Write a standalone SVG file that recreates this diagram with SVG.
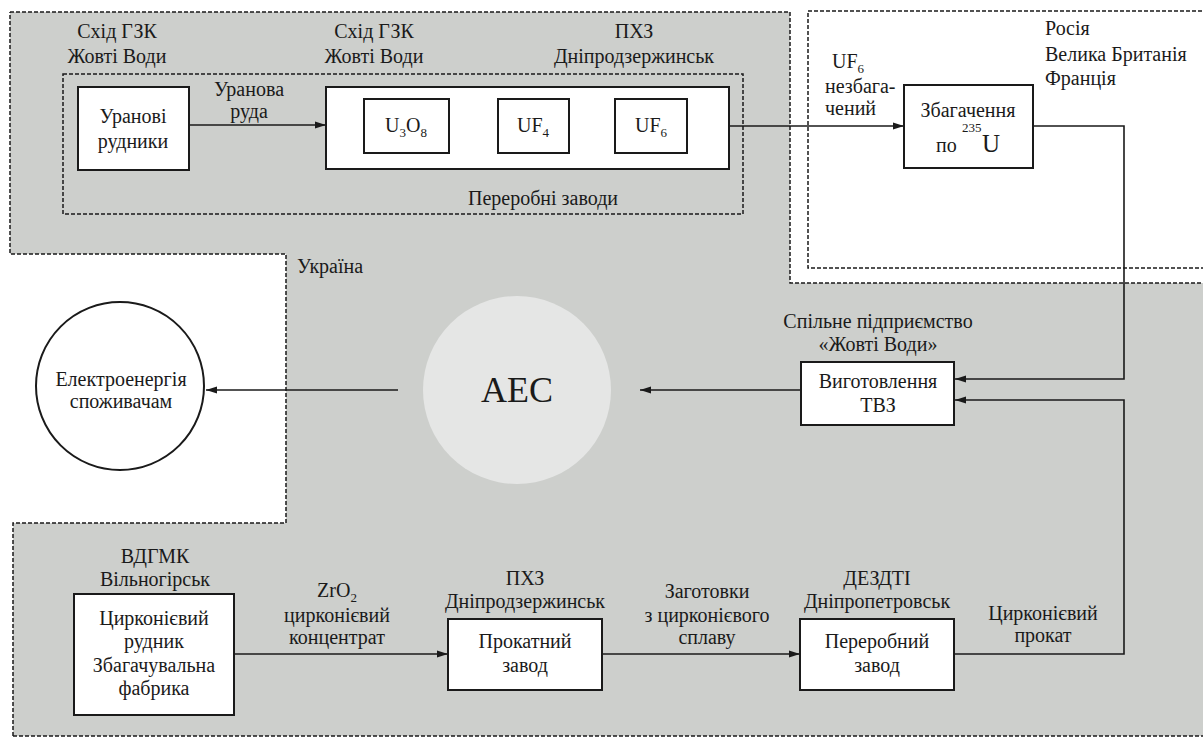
<svg xmlns="http://www.w3.org/2000/svg" width="1203" height="738" viewBox="0 0 1203 738">
<style>
text{font-family:"Liberation Serif","Times New Roman",serif;font-size:20px;fill:#1a1a1a}
.c{text-anchor:middle}
.box{fill:#fff;stroke:#1a1a1a;stroke-width:2}
.dash{fill:none;stroke:#1a1a1a;stroke-width:1.5;stroke-dasharray:4 2}
.con{fill:none;stroke:#1a1a1a;stroke-width:1.6}
.sub{font-size:13px}
</style>
<defs>
<marker id="ah" markerWidth="11" markerHeight="8" refX="11" refY="4" orient="auto" markerUnits="userSpaceOnUse"><path d="M0,0.5 L11,4 L0,7.5 z" fill="#1a1a1a"/></marker>
</defs>
<rect width="1203" height="738" fill="#fff"/>
<g id="regions">
<path d="M10,12 H790 V283 H1203 V736 H13 V523 H286 V254 H10 Z" fill="#cdcfcc" stroke="none"/>
<path d="M10,12 H790 V283 H1205 M13,736 V523 H286 V254 H10 V12 M13,736 H1205" class="dash"/>
<rect x="808" y="11" width="400" height="257" class="dash"/>
<rect x="63" y="74" width="680" height="140" class="dash"/>
<text x="543" y="205" class="c">Переробні заводи</text>
<text x="297" y="273">Україна</text>
<text x="1045" y="35">Росія</text>
<text x="1045" y="61">Велика Британія</text>
<text x="1045" y="85">Франція</text>
</g>
<g id="connectors">
<path d="M189,125 H326" class="con" marker-end="url(#ah)"/>
<path d="M449,126 H498" class="con" marker-end="url(#ah)"/>
<path d="M569,126 H615" class="con" marker-end="url(#ah)"/>
<path d="M729,126 H904" class="con" marker-end="url(#ah)"/>
<path d="M1033,126 H1124 V379 H955" class="con" marker-end="url(#ah)"/>
<path d="M954,654 H1124 V400 H955" class="con" marker-end="url(#ah)"/>
<path d="M801,390 H640" class="con" marker-end="url(#ah)"/>
<path d="M398,390 H206" class="con" marker-end="url(#ah)"/>
<path d="M234,654 H448" class="con" marker-end="url(#ah)"/>
<path d="M602,654 H800" class="con" marker-end="url(#ah)"/>
</g>
<g id="labels">
<text x="249" y="96" class="c">Уранова</text>
<text x="249" y="118" class="c">руда</text>
<text x="832" y="68">UF<tspan class="sub" dy="5">6</tspan></text>
<text x="825" y="93">незбага-</text>
<text x="825" y="115">чений</text>
<text x="337" y="597" class="c">ZrO<tspan class="sub" dy="5">2</tspan></text>
<text x="337" y="622" class="c">цирконієвий</text>
<text x="337" y="644" class="c">концентрат</text>
<text x="707" y="598" class="c">Заготовки</text>
<text x="707" y="622" class="c">з цирконієвого</text>
<text x="707" y="644" class="c">сплаву</text>
<text x="1043" y="620" class="c">Цирконієвий</text>
<text x="1043" y="642" class="c">прокат</text>
</g>
<g id="node-mines">
<text x="117" y="38" class="c">Схід ГЗК</text>
<text x="117" y="63" class="c">Жовті Води</text>
<rect x="78" y="87" width="111" height="83" class="box"/>
<text x="133" y="123" class="c">Уранові</text>
<text x="133" y="148" class="c">рудники</text>
</g>
<g id="node-plants">
<text x="374" y="38" class="c">Схід ГЗК</text>
<text x="374" y="63" class="c">Жовті Води</text>
<text x="634" y="38" class="c">ПХЗ</text>
<text x="634" y="63" class="c">Дніпродзержинськ</text>
<rect x="326" y="87" width="403" height="82" class="box"/>
</g>
<g id="node-u3o8">
<rect x="364" y="99" width="85" height="54" class="box"/>
<text x="406" y="132" class="c">U<tspan class="sub" dy="5">3</tspan><tspan dy="-5">O</tspan><tspan class="sub" dy="5">8</tspan></text>
</g>
<g id="node-uf4">
<rect x="498" y="99" width="71" height="54" class="box"/>
<text x="533" y="132" class="c">UF<tspan class="sub" dy="5">4</tspan></text>
</g>
<g id="node-uf6">
<rect x="615" y="99" width="72" height="54" class="box"/>
<text x="651" y="132" class="c">UF<tspan class="sub" dy="5">6</tspan></text>
</g>
<g id="node-enrich">
<rect x="904" y="85" width="129" height="83" class="box"/>
<text x="968" y="117" class="c">Збагачення</text>
<text x="936" y="152">по<tspan class="sub" x="962" y="132">235</tspan><tspan x="982" y="152" style="font-size:25px">U</tspan></text>
</g>
<g id="node-tvz">
<text x="878" y="328" class="c">Спільне підприємство</text>
<text x="878" y="351" class="c">«Жовті Води»</text>
<rect x="801" y="362" width="153" height="63" class="box"/>
<text x="878" y="388" class="c">Виготовлення</text>
<text x="878" y="412" class="c">ТВЗ</text>
</g>
<g id="node-aes">
<circle cx="517" cy="390" r="94" fill="#e5e6e5"/>
<text x="517" y="402" class="c" style="font-size:36px">AEC</text>
</g>
<g id="node-consumers">
<circle cx="120" cy="386" r="84" fill="#fff" stroke="#1a1a1a" stroke-width="2"/>
<text x="121" y="386" class="c">Електроенергія</text>
<text x="121" y="408" class="c">споживачам</text>
</g>
<g id="node-zr-mine">
<text x="155" y="563" class="c">ВДГМК</text>
<text x="155" y="586" class="c">Вільногірськ</text>
<rect x="74" y="594" width="160" height="121" class="box"/>
<text x="154" y="625" class="c">Цирконієвий</text>
<text x="154" y="648" class="c">рудник</text>
<text x="154" y="672" class="c">Збагачувальна</text>
<text x="154" y="695" class="c">фабрика</text>
</g>
<g id="node-rolling">
<text x="525" y="585" class="c">ПХЗ</text>
<text x="525" y="608" class="c">Дніпродзержинськ</text>
<rect x="448" y="619" width="154" height="71" class="box"/>
<text x="525" y="648" class="c">Прокатний</text>
<text x="525" y="672" class="c">завод</text>
</g>
<g id="node-processing">
<text x="877" y="585" class="c">ДЕЗДТІ</text>
<text x="877" y="608" class="c">Дніпропетровськ</text>
<rect x="800" y="619" width="154" height="71" class="box"/>
<text x="877" y="648" class="c">Переробний</text>
<text x="877" y="672" class="c">завод</text>
</g>
</svg>
